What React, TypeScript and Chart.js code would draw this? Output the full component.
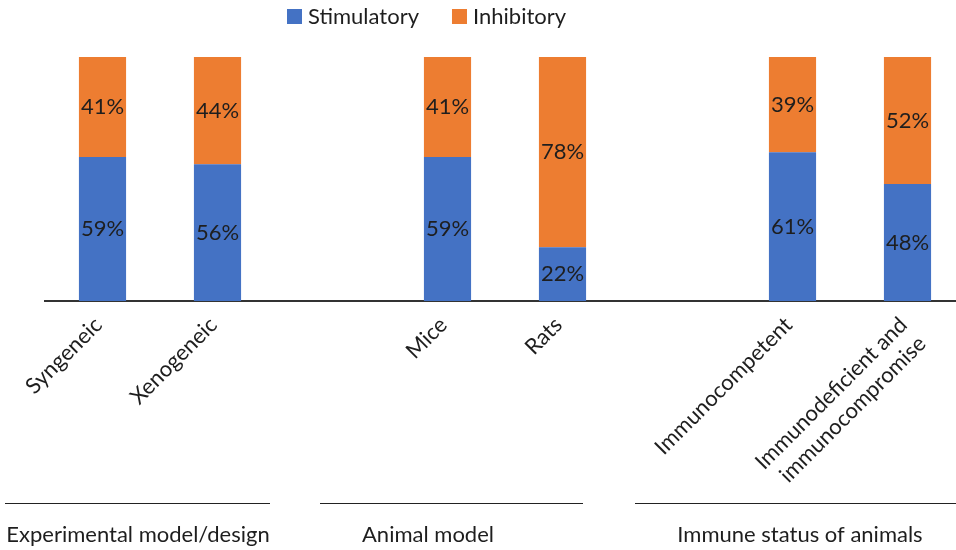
import { useEffect, useRef } from 'react';
import { Chart, registerables } from 'chart.js';

Chart.register(...registerables);

// Categories: blank entries separate the three groups of bars
const categories: (string | string[])[] = [
  'Syngeneic',
  'Xenogeneic',
  '',
  'Mice',
  'Rats',
  '',
  'Immunocompetent',
  ['Immunodeficient and', 'immunocompromise'],
];
const stimulatory: (number | null)[] = [59, 56, null, 59, 22, null, 61, 48];
const inhibitory: (number | null)[] = [41, 44, null, 41, 78, null, 39, 52];
const seriesNames = ['Stimulatory', 'Inhibitory'];
const seriesColors = ['#4472C4', '#ED7D31'];
const groupNames = ['Experimental model/design', 'Animal model', 'Immune status of animals'];

const FONT = 'Lato, "Open Sans", sans-serif';
const TEXT = '#1e1e1e';
const SIZE = 22;

// Percent labels centred in each stacked segment
const valueLabels = {
  id: 'valueLabels',
  afterDatasetsDraw(chart: any) {
    const ctx = chart.ctx;
    ctx.save();
    ctx.font = `${SIZE}px ${FONT}`;
    ctx.fillStyle = TEXT;
    ctx.textAlign = 'center';
    ctx.textBaseline = 'middle';
    chart.data.datasets.forEach((ds: any, di: number) => {
      const meta = chart.getDatasetMeta(di);
      meta.data.forEach((el: any, i: number) => {
        const v = ds.data[i];
        if (v == null) return;
        const { x, y, base } = el.getProps(['x', 'y', 'base'], true);
        ctx.fillText(`${v}%`, x, (y + base) / 2);
      });
    });
    ctx.restore();
  },
};

// Legend row across the top
const topLegend = {
  id: 'topLegend',
  afterDraw(chart: any) {
    const ctx = chart.ctx;
    ctx.save();
    ctx.font = `${SIZE}px ${FONT}`;
    ctx.textBaseline = 'middle';
    ctx.textAlign = 'left';
    let x = 287;
    const cy = 17;
    chart.data.datasets.forEach((ds: any) => {
      ctx.fillStyle = ds.backgroundColor;
      ctx.fillRect(x, cy - 8, 15, 15);
      ctx.fillStyle = TEXT;
      ctx.fillText(ds.label, x + 21, cy);
      x += 21 + ctx.measureText(ds.label).width + 33;
    });
    ctx.restore();
  },
};

// Group captions with a rule above each
const groupCaptions = {
  id: 'groupCaptions',
  afterDraw(chart: any) {
    const ctx = chart.ctx;
    const spans = [
      [5, 270, 138],
      [320, 583, 428],
      [635, 956, 800],
    ];
    ctx.save();
    ctx.strokeStyle = '#222';
    ctx.lineWidth = 1.2;
    ctx.font = `${SIZE}px ${FONT}`;
    ctx.fillStyle = TEXT;
    ctx.textAlign = 'center';
    ctx.textBaseline = 'middle';
    groupNames.forEach((name, i) => {
      const [x0, x1, cx] = spans[i];
      ctx.beginPath();
      ctx.moveTo(x0, 503.5);
      ctx.lineTo(x1, 503.5);
      ctx.stroke();
      ctx.fillText(name, cx, 535);
    });
    ctx.restore();
  },
};

export default function App() {
  const canvasRef = useRef<HTMLCanvasElement | null>(null);

  useEffect(() => {
    document.body.style.margin = '0';
    const canvas = canvasRef.current;
    if (!canvas) return;
    const chart = new Chart(canvas, {
      type: 'bar',
      data: {
        labels: categories as any,
        datasets: [
          { label: seriesNames[0], data: stimulatory, backgroundColor: seriesColors[0] },
          { label: seriesNames[1], data: inhibitory, backgroundColor: seriesColors[1] },
        ],
      },
      options: {
        animation: false,
        responsive: true,
        maintainAspectRatio: false,
        layout: { padding: { top: 57, left: 45, right: 0, bottom: 0 } },
        datasets: { bar: { barPercentage: 0.41, categoryPercentage: 1 } },
        plugins: {
          legend: { display: false },
          tooltip: { enabled: false },
        },
        scales: {
          x: {
            stacked: true,
            grid: { display: false },
            border: { display: true, color: '#333', width: 2 },
            ticks: {
              color: TEXT,
              font: { family: FONT, size: SIZE },
              minRotation: 45,
              maxRotation: 45,
              autoSkip: false,
              padding: 3,
              labelOffset: -4,
            },
            afterFit(scale: any) {
              scale.height = 249;
            },
          },
          y: {
            stacked: true,
            min: 0,
            max: 100,
            display: false,
          },
        },
      },
      plugins: [valueLabels, topLegend, groupCaptions],
    });
    return () => chart.destroy();
  }, []);

  return (
    <div style={{ width: 956, height: 550, overflow: 'hidden' }}>
      <div style={{ width: 965, height: 550, position: 'relative' }}>
        <canvas ref={canvasRef} />
      </div>
    </div>
  );
}
